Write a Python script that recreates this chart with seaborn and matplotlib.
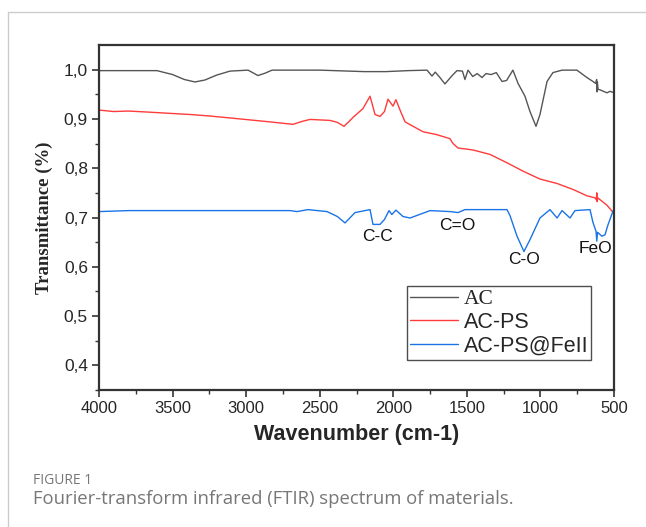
import matplotlib
matplotlib.use("Agg")
import matplotlib.pyplot as plt
import matplotlib.lines as mlines
import seaborn as sns
import pandas as pd
import numpy as np

# ---------------- data ----------------
ac_wn = [4000, 3800, 3606, 3500, 3420, 3348, 3280, 3200, 3110, 3050, 2987, 2950, 2920, 2870, 2824,
         2500, 2200, 2050, 1900, 1771, 1737, 1715, 1683, 1649, 1600, 1567, 1530, 1513, 1492, 1460,
         1430, 1397, 1370, 1335, 1300, 1261, 1230, 1187, 1152, 1105, 1071, 1030, 1003, 955, 915,
         853, 752, 684, 643, 625, 618, 616, 613, 608, 595, 548, 527, 507]
ac_t = [0.998, 0.998, 0.998, 0.990, 0.980, 0.975, 0.979, 0.989, 0.997, 0.998, 0.999, 0.993, 0.988,
        0.993, 0.999, 0.999, 0.996, 0.996, 0.998, 0.999, 0.987, 0.995, 0.984, 0.971, 0.988, 0.998,
        0.997, 0.980, 0.999, 0.986, 0.992, 0.984, 0.992, 0.990, 0.994, 0.976, 0.978, 0.999, 0.972,
        0.946, 0.915, 0.885, 0.909, 0.976, 0.994, 0.999, 0.999, 0.984, 0.976, 0.972, 0.980, 0.955,
        0.975, 0.960, 0.959, 0.953, 0.956, 0.954]

ps_wn = [4000, 3900, 3800, 3674, 3500, 3382, 3250, 3110, 2906, 2838, 2682, 2620, 2566, 2430, 2380,
         2335, 2300, 2274, 2206, 2158, 2124, 2090, 2060, 2036, 2002, 1982, 1950, 1920, 1798, 1703,
         1615, 1594, 1560, 1458, 1343, 1227, 1118, 1003, 887, 779, 684, 630, 620, 617, 614, 611,
         548, 514, 500]
ps_t = [0.918, 0.915, 0.916, 0.914, 0.911, 0.909, 0.906, 0.902, 0.896, 0.894, 0.889, 0.895, 0.899,
        0.897, 0.893, 0.885, 0.895, 0.903, 0.921, 0.946, 0.909, 0.905, 0.915, 0.940, 0.926, 0.939,
        0.915, 0.894, 0.874, 0.868, 0.860, 0.850, 0.841, 0.837, 0.828, 0.811, 0.794, 0.778, 0.769,
        0.757, 0.744, 0.740, 0.736, 0.750, 0.732, 0.740, 0.725, 0.713, 0.712]

fe_wn = [4000, 3800, 3500, 3200, 2900, 2700, 2654, 2580, 2450, 2380, 2328, 2260, 2226, 2158, 2138,
         2090, 2060, 2029, 2010, 1982, 1934, 1886, 1750, 1615, 1560, 1513, 1300, 1227, 1207, 1159,
         1112, 1071, 1003, 935, 887, 853, 799, 765, 663, 643, 622, 617, 612, 582, 561, 541, 507, 500]
fe_t = [0.712, 0.714, 0.714, 0.714, 0.714, 0.714, 0.712, 0.716, 0.712, 0.702, 0.689, 0.710, 0.712,
        0.716, 0.686, 0.686, 0.696, 0.714, 0.706, 0.715, 0.702, 0.699, 0.714, 0.712, 0.710, 0.716,
        0.716, 0.716, 0.704, 0.662, 0.631, 0.655, 0.699, 0.716, 0.699, 0.714, 0.699, 0.714, 0.716,
        0.690, 0.672, 0.652, 0.670, 0.662, 0.665, 0.685, 0.713, 0.716]

series_names = ["AC", "AC-PS", "AC-PS@FeII"]
series_colors = ["#555555", "#ff3b3b", "#1a74e6"]

y_ticks = [0.4, 0.5, 0.6, 0.7, 0.8, 0.9, 1.0]
y_tick_labels = ["0,4", "0,5", "0,6", "0,7", "0,8", "0,9", "1,0"]
x_ticks = [4000, 3500, 3000, 2500, 2000, 1500, 1000, 500]

peak_labels = ["C-C", "C=O", "C-O", "FeO"]
peak_wn = [2104, 1567, 1112, 629]
peak_t = [0.661, 0.684, 0.615, 0.637]

# ---------------- plot ----------------
sns.set_theme(style="white")
plt.rcParams['font.family'] = ['Liberation Sans', 'DejaVu Sans']

fig = plt.figure(figsize=(6.46, 5.27), dpi=100)
ax = fig.add_axes([99/646, 1-390/527, 515/646, 345/527])

data = [(ac_wn, ac_t), (ps_wn, ps_t), (fe_wn, fe_t)]
for (wn, t), name, col in zip(data, series_names, series_colors):
    df = pd.DataFrame({"wn": wn, "T": t})
    sns.lineplot(data=df, x="wn", y="T", ax=ax, color=col, lw=1.0, sort=False,
                 label=name, legend=False)

ax.set_xlim(4000, 500)
ax.set_ylim(0.35, 1.05)
ax.set_xticks(x_ticks)
ax.set_xticklabels([str(v) for v in x_ticks], fontsize=12)
ax.set_yticks(y_ticks)
ax.set_yticklabels(y_tick_labels, fontsize=12.5)
ax.set_xticks(np.arange(3750, 500, -500), minor=True)
ax.set_yticks(np.arange(0.35, 1.05, 0.1), minor=True)
ax.tick_params(axis='both', which='major', direction='out', length=5, width=1.2,
               color='#333333', bottom=True, left=True, pad=3)
ax.tick_params(axis='both', which='minor', direction='out', length=3, width=1.0,
               color='#333333', bottom=True, left=True)

for s in ax.spines.values():
    s.set_color('#333333')
    s.set_linewidth(1.6)

ax.set_xlabel("Wavenumber (cm-1)", fontsize=15.5, fontweight='bold', labelpad=6)
ax.set_ylabel("Transmittance (%)", fontsize=13.5, fontweight='bold',
              family=['Liberation Serif', 'DejaVu Serif'], labelpad=8)

for lab, w, t in zip(peak_labels, peak_wn, peak_t):
    ax.text(w, t, lab, ha='center', va='center', fontsize=12.5, color='#111111')

handles = [mlines.Line2D([], [], color=c, lw=1.0) for c in series_colors]
leg = ax.legend(handles, series_names, loc='lower left', bbox_to_anchor=(0.598, 0.088),
                frameon=True, fancybox=False, edgecolor='#222222', fontsize=15.5,
                handlelength=2.2, handletextpad=0.28, borderpad=0.15, labelspacing=0.12,
                borderaxespad=0)
leg.get_frame().set_linewidth(1.0)
leg.get_texts()[0].set_fontfamily(['Liberation Serif', 'DejaVu Serif'])

# page frame
fig.add_artist(mlines.Line2D([8/646, 8/646], [0, 1-12/527], color='#cccccc', lw=1.0))
fig.add_artist(mlines.Line2D([8/646, 1], [1-12/527, 1-12/527], color='#cccccc', lw=1.0))

fig.text(33/646, 1-481/527, "FIGURE 1", fontsize=10, color='#777777',
         family=['Open Sans', 'DejaVu Sans'], va='center', ha='left')
fig.text(33/646, 1-499/527, "Fourier-transform infrared (FTIR) spectrum of materials.",
         fontsize=13.3, color='#777777', family=['Open Sans', 'DejaVu Sans'],
         va='center', ha='left')

fig.savefig("out.png", dpi=100)
